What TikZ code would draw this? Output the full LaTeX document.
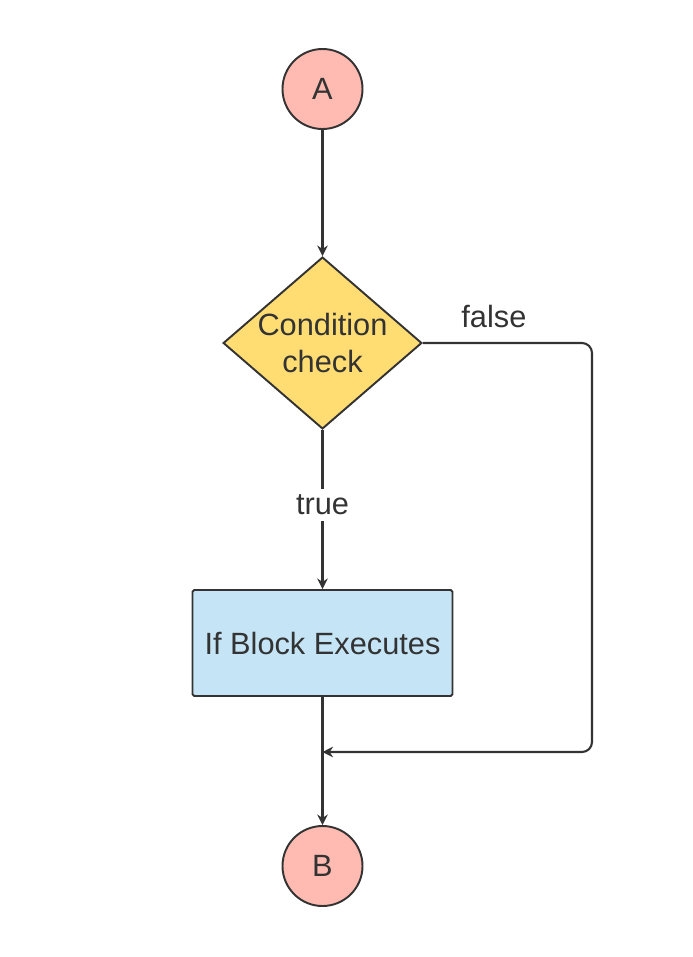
\documentclass[tikz,border=0pt]{standalone}
\usepackage{xcolor}
\usepackage{fontspec}
\setmainfont{Liberation Sans}
\usepackage{tikz}
\usetikzlibrary{shapes.geometric, arrows.meta, positioning}
\definecolor{linegray}{HTML}{333333}
\definecolor{termred}{HTML}{FFBBB1}
\definecolor{decyellow}{HTML}{FFDD72}
\definecolor{procblue}{HTML}{C5E5F6}
\tikzstyle{arrow} = [line width=1.2pt, draw=linegray, -{Stealth[length=6pt, width=6pt]}]
\tikzstyle{term} = [circle, draw=linegray, line width=1.1pt, fill=termred, minimum size=1.6cm, inner sep=0pt]
\tikzstyle{decision} = [diamond, draw=linegray, line width=1.1pt, fill=decyellow, aspect=1.156, inner sep=0pt]
\tikzstyle{block} = [rectangle, draw=linegray, line width=1.1pt, fill=procblue, rounded corners=1pt, minimum width=5.2cm, minimum height=2.12cm]
\tikzset{every node/.style={align=center, text=linegray, font=\fontsize{17.5}{21}\selectfont}}

\begin{document}
\begin{tikzpicture}
    \useasboundingbox (0,0) rectangle (13.86,-19.14);
    \node (a)    [term]     at (6.45,-1.78)  {A};
    \node (cond) [decision] at (6.45,-6.86)  {Condition\\check};
    \node (blk)  [block]    at (6.45,-12.86) {If Block Executes};
    \node (b)    [term]     at (6.45,-17.32) {B};
    \coordinate (join) at (6.45,-15.04);
    \coordinate (rgt)  at (11.84,-15.04);

    \draw [arrow] (a) -- (cond);
    \draw [arrow] (cond) -- node[fill=white, pos=0.47]{true} (blk);
    \draw [arrow] (blk) -- (b);
    \draw [arrow, rounded corners=0.2cm] (cond.east) -| node[above=5pt, pos=0.21]{false} (rgt) -- (join);
\end{tikzpicture}
\end{document}
